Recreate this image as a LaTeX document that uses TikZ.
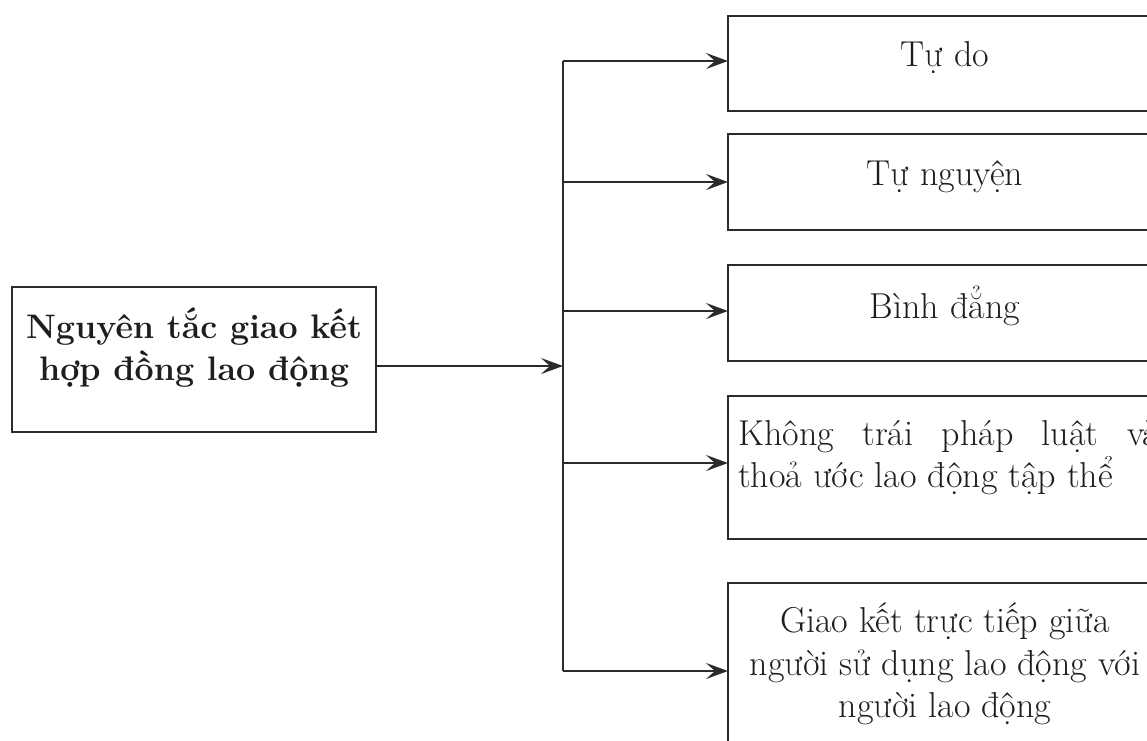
\documentclass[tikz,border=0pt]{standalone}
\usepackage{fontspec}
\usetikzlibrary{arrows.meta}
\definecolor{ln}{HTML}{2B2B2B}
\definecolor{tx}{HTML}{1E1E1E}
\tikzset{
  box/.style={draw=ln, line width=2.6pt, anchor=north west, inner sep=0pt, outer sep=0pt, fill=white},
  conn/.style={draw=ln, line width=2.2pt},
  arr/.style={conn, -{Stealth[length=22pt,width=16pt,inset=9pt]}},
  lbl/.style={text=tx, font=\fontsize{36}{43}\selectfont, inner sep=0pt, anchor=base},
  blbl/.style={lbl, font=\fontsize{34}{43}\selectfont\bfseries},
}
\begin{document}
\begin{tikzpicture}[x=1pt,y=-1pt]
\useasboundingbox (0,0) rectangle (1147,740);
\clip (0,0) rectangle (1147,740);
\fill[white] (0,0) rectangle (1147,740);
% boxes
\node[box, minimum width=364pt, minimum height=145pt] (src) at (12,287) {};
\node[box, minimum width=434pt, minimum height=95pt]  (b1) at (728,16) {};
\node[box, minimum width=434pt, minimum height=96pt]  (b2) at (728,134) {};
\node[box, minimum width=434pt, minimum height=96pt]  (b3) at (728,265) {};
\node[box, minimum width=434pt, minimum height=143pt] (b4) at (728,396) {};
\node[box, minimum width=434pt, minimum height=190pt] (b5) at (728,583) {};
% bus coordinates
\coordinate (j1) at (563,61);
\coordinate (j2) at (563,182);
\coordinate (j3) at (563,311);
\coordinate (jm) at (563,366);
\coordinate (j4) at (563,463);
\coordinate (j5) at (563,671);
% connectors
\draw[conn] (j1) -- (j5);
\draw[arr] (src.east |- jm) -- (jm);
\draw[arr] (j1) -- (j1 -| b1.west);
\draw[arr] (j2) -- (j2 -| b2.west);
\draw[arr] (j3) -- (j3 -| b3.west);
\draw[arr] (j4) -- (j4 -| b4.west);
\draw[arr] (j5) -- (j5 -| b5.west);
% texts
\node[blbl] (s1) at (194,338) {Nguyên tắc giao kết};
\node[blbl] (s2) at (194,380) {hợp đồng lao động};
\node[lbl] (t1) at (945,66) {Tự do};
\node[lbl] (t2) at (945,185) {Tự nguyện};
\node[lbl] (t3) at (945,318) {Bình đẳng};
\node[lbl, anchor=base west] (t4a) at (738,445) {\hbox to 421pt{Không\hfill trái\hfill pháp\hfill luật\hfill và}};
\node[lbl, anchor=base west] (t4b) at (738,487) {thoả ước lao động tập thể};
\node[lbl] (t5a) at (945,632) {Giao kết trực tiếp giữa};
\node[lbl] (t5b) at (945,675) {người sử dụng lao động với};
\node[lbl] (t5c) at (945,717) {người lao động};
\end{tikzpicture}
\end{document}
